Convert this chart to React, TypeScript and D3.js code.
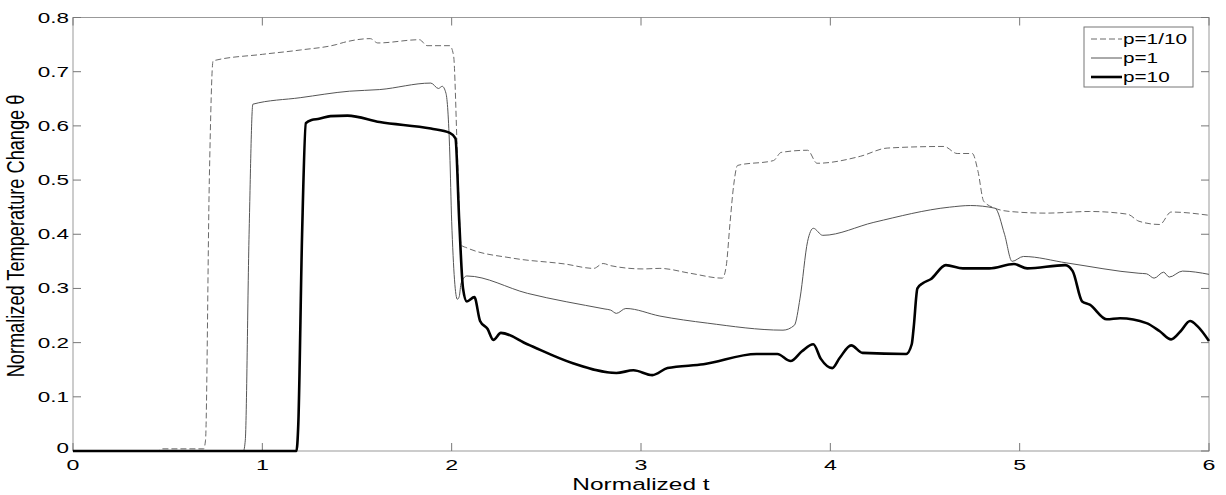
import React from "react";
import * as d3 from "d3";

const xTicks = [0, 1, 2, 3, 4, 5, 6];
const yTicks = [0, 0.1, 0.2, 0.3, 0.4, 0.5, 0.6, 0.7, 0.8];
const yTickLabels = ["0", "0.1", "0.2", "0.3", "0.4", "0.5", "0.6", "0.7", "0.8"];

const seriesNames = ["p=1/10", "p=1", "p=10"];

const tP01 = [0, 0.45, 0.47, 0.69, 0.7, 0.72, 0.74, 1.0, 1.2, 1.39, 1.43, 1.57, 1.61, 1.83, 1.87, 1.99, 2.01, 2.03, 2.05, 2.08, 2.32, 2.6, 2.75, 2.8, 2.84, 3.01, 3.1, 3.26, 3.43, 3.45, 3.47, 3.49, 3.51, 3.7, 3.74, 3.88, 3.93, 4.16, 4.3, 4.6, 4.67, 4.75, 4.78, 4.81, 4.87, 4.95, 5.14, 5.37, 5.57, 5.63, 5.74, 5.8, 6.0];
const vP01 = [0, 0, 0.004, 0.004, 0.02, 0.5, 0.72, 0.732, 0.74, 0.75, 0.754, 0.761, 0.753, 0.759, 0.748, 0.748, 0.73, 0.55, 0.38, 0.375, 0.356, 0.345, 0.337, 0.346, 0.342, 0.336, 0.337, 0.328, 0.319, 0.341, 0.42, 0.492, 0.527, 0.536, 0.551, 0.555, 0.531, 0.544, 0.559, 0.562, 0.549, 0.549, 0.516, 0.461, 0.448, 0.442, 0.439, 0.442, 0.437, 0.424, 0.418, 0.441, 0.435];

const tP1 = [0, 0.9, 0.91, 0.93, 0.95, 1.2, 1.46, 1.62, 1.89, 1.93, 1.95, 1.97, 1.99, 2.0, 2.03, 2.04, 2.05, 2.08, 2.4, 2.81, 2.84, 2.87, 2.92, 3.1, 3.35, 3.75, 3.81, 3.84, 3.88, 3.91, 3.96, 4.23, 4.63, 4.74, 4.87, 4.92, 4.96, 5.02, 5.25, 5.63, 5.67, 5.71, 5.76, 5.79, 5.86, 6.0];
const vP1 = [0, 0, 0.02, 0.4, 0.64, 0.652, 0.664, 0.667, 0.679, 0.669, 0.673, 0.66, 0.55, 0.424, 0.28, 0.285, 0.31, 0.323, 0.291, 0.262, 0.26, 0.254, 0.263, 0.249, 0.236, 0.223, 0.232, 0.282, 0.387, 0.411, 0.398, 0.422, 0.45, 0.453, 0.448, 0.4, 0.35, 0.359, 0.347, 0.328, 0.327, 0.319, 0.33, 0.321, 0.332, 0.326];

const tP10 = [0, 1.18, 1.19, 1.21, 1.23, 1.26, 1.3, 1.36, 1.45, 1.62, 1.89, 1.99, 2.02, 2.04, 2.06, 2.08, 2.12, 2.15, 2.19, 2.22, 2.26, 2.4, 2.64, 2.87, 2.96, 3.06, 3.14, 3.33, 3.61, 3.72, 3.79, 3.85, 3.91, 3.95, 4.01, 4.05, 4.11, 4.17, 4.4, 4.43, 4.44, 4.46, 4.49, 4.53, 4.61, 4.7, 4.84, 4.97, 5.04, 5.24, 5.28, 5.33, 5.37, 5.46, 5.53, 5.67, 5.74, 5.8, 5.85, 5.9, 5.94, 6.0];
const vP10 = [0, 0, 0.05, 0.4, 0.605, 0.611, 0.613, 0.618, 0.619, 0.607, 0.595, 0.587, 0.577, 0.424, 0.3, 0.276, 0.284, 0.24, 0.225, 0.205, 0.218, 0.197, 0.162, 0.144, 0.149, 0.14, 0.153, 0.16, 0.179, 0.179, 0.166, 0.184, 0.197, 0.17, 0.153, 0.172, 0.195, 0.181, 0.179, 0.197, 0.227, 0.3, 0.31, 0.317, 0.343, 0.337, 0.337, 0.345, 0.337, 0.343, 0.332, 0.276, 0.27, 0.243, 0.245, 0.236, 0.221, 0.206, 0.221, 0.24, 0.23, 0.203];

const W = 1226;
const H = 495;
const left = 73;
const right = 1209;
const top = 17.5;
const bottom = 451;
const SX = 1.6;
const FONT = "Liberation Sans, Arial, sans-serif";

const styles = [
  { stroke: "#6a6a6a", width: 1, dash: "6,3" },
  { stroke: "#555", width: 1, dash: "" },
  { stroke: "#000", width: 2.6, dash: "" },
];

function SText({ x, y, anchor, size, sx, children }: any) {
  return (
    <text
      transform={`translate(${x},${y}) scale(${sx || SX},1)`}
      textAnchor={anchor}
      fontSize={size}
      fontFamily={FONT}
      fill="#000"
    >
      {children}
    </text>
  );
}

export default function App() {
  const x = d3.scaleLinear().domain([0, 6]).range([left, right]);
  const y = d3.scaleLinear().domain([0, 0.8]).range([bottom, top]);
  const line = d3
    .line<[number, number]>()
    .x((d) => x(d[0]))
    .y((d) => y(d[1]))
    .curve(d3.curveMonotoneX);

  const data: [number, number][][] = [
    tP01.map((t, i) => [t, vP01[i]] as [number, number]),
    tP1.map((t, i) => [t, vP1[i]] as [number, number]),
    tP10.map((t, i) => [t, vP10[i]] as [number, number]),
  ];

  const tickLen = 8;
  const lgX = 1084;
  const lgY = 27;

  return (
    <svg
      width={W}
      height={H}
      style={{ position: "absolute", left: 0, top: 0, background: "#fff" }}
    >
      <rect x={0} y={0} width={W} height={H} fill="#fff" />
      <rect x={left} y={top} width={right - left} height={bottom - top} fill="none" stroke="#999" strokeWidth={1} />
      {xTicks.map((t) => (
        <g key={"xt" + t}>
          <line x1={x(t)} x2={x(t)} y1={bottom} y2={bottom - tickLen} stroke="#777" />
          <line x1={x(t)} x2={x(t)} y1={top} y2={top + tickLen} stroke="#777" />
          <SText x={x(t)} y={469.5} anchor="middle" size={14.5}>
            {String(t)}
          </SText>
        </g>
      ))}
      {yTicks.map((v, i) => (
        <g key={"yt" + i}>
          <line x1={left} x2={left + tickLen} y1={y(v)} y2={y(v)} stroke="#777" />
          <line x1={right} x2={right - tickLen} y1={y(v)} y2={y(v)} stroke="#777" />
          <SText x={69} y={y(v) + (i === 0 ? 2 : 5)} anchor="end" size={14.5} sx={1.55}>
            {yTickLabels[i]}
          </SText>
        </g>
      ))}
      {data.map((d, i) => (
        <path
          key={"s" + i}
          d={line(d) || ""}
          fill="none"
          stroke={styles[i].stroke}
          strokeWidth={styles[i].width}
          strokeDasharray={styles[i].dash || undefined}
          strokeLinejoin="round"
        />
      ))}
      <SText x={(left + right) / 2} y={490} anchor="middle" size={17} sx={1.44}>
        Normalized t
      </SText>
      <text
        transform={`translate(24,236) rotate(-90) scale(1,1.3)`}
        textAnchor="middle"
        fontSize={18.2}
        fontFamily={FONT}
        fill="#000"
      >
        Normalized Temperature Change θ
      </text>
      <rect x={lgX} y={lgY} width={109} height={60} fill="#fff" stroke="#777" strokeWidth={1} />
      {seriesNames.map((n, i) => (
        <g key={"lg" + i}>
          <line
            x1={1091}
            x2={1122}
            y1={lgY + 12 + i * 19}
            y2={lgY + 12 + i * 19}
            stroke={styles[i].stroke}
            strokeWidth={styles[i].width}
            strokeDasharray={styles[i].dash || undefined}
          />
          <SText x={1123} y={lgY + 17 + i * 19} anchor="start" size={14} sx={1.48}>
            {n}
          </SText>
        </g>
      ))}
    </svg>
  );
}
